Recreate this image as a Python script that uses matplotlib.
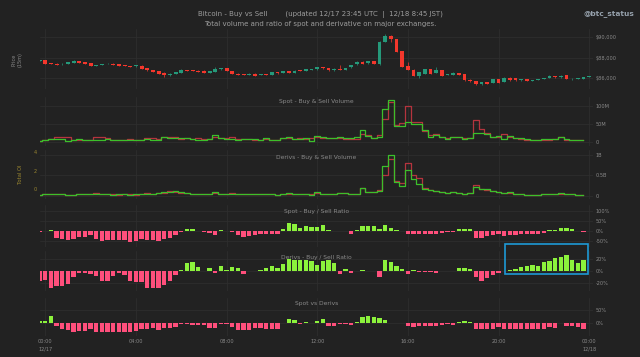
import matplotlib
matplotlib.use("Agg")
import matplotlib.pyplot as plt
import numpy as np
from matplotlib.patches import Rectangle

# 15 minute candles, 23:45 12/16 .. 00:00 12/18 (hours from 00:00 12/17)
price_open = [87730, 87770, 87475, 87440, 87345, 87440, 87500, 87670, 87540, 87475,
              87210, 87310, 87380, 87440, 87380, 87310, 87210, 87150, 87245, 86980,
              86820, 86690, 86560, 86360, 86425, 86560, 86820, 86785, 86750, 86750,
              86560, 86655, 86885, 86980, 86720, 86460, 86390, 86330, 86460, 86300,
              86390, 86330, 86590, 86525, 86690, 86525, 86785, 86720, 86850, 86885,
              87080, 87015, 86785, 86950, 86820, 87050, 87345, 87605, 87475, 87670,
              87380, 89575, 90165, 89840, 88655, 87180, 86850, 86230, 86460, 86885,
              86525, 86790, 86300, 86360, 86525, 86425, 85870, 85735, 85410, 85640,
              85540, 85935, 85640, 86065, 86000, 85800, 85935, 85735, 85835, 85935,
              86030, 86195, 86100, 86300, 85900, 85935, 85965, 86130]
price_close = [87745, 87410, 87380, 87310, 87440, 87540, 87700, 87475, 87410, 87210,
               87310, 87410, 87440, 87310, 87245, 87180, 87110, 87280, 86950, 86785,
               86655, 86425, 86330, 86460, 86620, 86850, 86720, 86690, 86655, 86520,
               86720, 86950, 86980, 86690, 86425, 86330, 86300, 86460, 86260, 86425,
               86330, 86620, 86490, 86690, 86525, 86750, 86690, 86885, 86910, 87110,
               86980, 86785, 86950, 86820, 87015, 87310, 87605, 87440, 87670, 87380,
               89575, 90165, 89840, 88590, 87115, 86850, 86230, 86590, 86885, 86460,
               86850, 86260, 86390, 86560, 86360, 85800, 85700, 85410, 85640, 85475,
               85935, 85570, 86065, 85800, 85800, 85900, 85735, 85835, 85935, 86030,
               86230, 86100, 86260, 85935, 85965, 86000, 86130, 86195]
price_high = [87790, 87800, 87500, 87470, 87470, 87570, 87740, 87700, 87570, 87500,
              87340, 87440, 87470, 87470, 87410, 87340, 87240, 87310, 87280, 87010,
              86850, 86720, 86590, 86490, 86650, 86880, 86850, 86810, 86780, 86780,
              86750, 87100, 87010, 87010, 86750, 86490, 86420, 86490, 86490, 86450,
              86420, 86650, 86620, 86720, 86720, 86780, 86810, 86910, 86940, 87140,
              87110, 87040, 86980, 87280, 87040, 87340, 87640, 87640, 87700, 87700,
              89610, 90330, 90200, 89870, 88690, 87600, 86880, 86620, 86910, 86910,
              87050, 86820, 86420, 86590, 86550, 86450, 85900, 85760, 85670, 85670,
              85960, 85960, 86100, 86090, 86030, 85930, 85960, 85860, 85960, 86060,
              86320, 86220, 86290, 86330, 85990, 86030, 86160, 86220]
price_low = [87700, 87380, 87350, 87280, 87320, 87410, 87470, 87450, 87380, 87180,
             87180, 87280, 87350, 87280, 87210, 87150, 87080, 87120, 86920, 86750,
             86620, 86390, 86160, 86230, 86390, 86530, 86690, 86660, 86620, 86490,
             86530, 86620, 86850, 86660, 86390, 86300, 86270, 86300, 86230, 86270,
             86300, 86300, 86460, 86490, 86490, 86490, 86660, 86690, 86820, 86850,
             86950, 86750, 86750, 86790, 86790, 87020, 87310, 87410, 87440, 87350,
             87250, 89540, 89575, 88560, 87080, 86820, 86200, 86070, 86430, 86430,
             86490, 86230, 86270, 86330, 86330, 85770, 85670, 85380, 85380, 85440,
             85510, 85540, 85610, 85770, 85770, 85770, 85700, 85700, 85810, 85910,
             86000, 86070, 86070, 85900, 85870, 85910, 85940, 86100]

# volumes, 23:45 12/16 .. 23:45 12/17
spot_buy = [3, 5, 8, 7, 7, 3, 4, 8, 5, 5, 5, 5, 7, 4, 6, 5, 5, 6, 4, 7,
            6, 6, 12, 10, 9, 9, 11, 8, 6, 5, 8, 18, 11, 8, 8, 6, 7, 7, 7, 6,
            10, 4, 4, 9, 12, 8, 7, 9, 3, 17, 12, 11, 9, 12, 9, 10, 12, 34, 15, 11,
            13, 92, 117, 44, 44, 56, 49, 50, 33, 14, 19, 14, 7, 14, 14, 7, 11, 23, 23, 21,
            14, 17, 7, 17, 9, 9, 8, 6, 6, 7, 7, 8, 14, 7, 5, 5, 4]
spot_sell = [2, 4, 8, 14, 14, 13, 4, 6, 5, 5, 12, 12, 10, 6, 5, 6, 8, 5, 4, 9,
             9, 7, 13, 14, 12, 7, 9, 8, 9, 8, 8, 14, 10, 11, 12, 7, 7, 7, 6, 5,
             8, 6, 5, 10, 10, 8, 9, 8, 10, 14, 10, 10, 10, 11, 8, 7, 7, 21, 19, 11,
             19, 63, 112, 47, 51, 100, 54, 56, 30, 19, 21, 14, 11, 13, 12, 9, 11, 60, 35, 23,
             14, 14, 21, 14, 9, 8, 6, 5, 5, 5, 6, 7, 12, 5, 6, 6, 4]
derivs_buy = [0.02, 0.03, 0.03, 0.03, 0.03, 0.02, 0.02, 0.05, 0.04, 0.03,
              0.03, 0.03, 0.04, 0.02, 0.03, 0.03, 0.02, 0.03, 0.03, 0.05,
              0.04, 0.06, 0.08, 0.09, 0.12, 0.08, 0.06, 0.05, 0.04, 0.03,
              0.03, 0.09, 0.04, 0.03, 0.03, 0.04, 0.04, 0.04, 0.03, 0.03,
              0.05, 0.03, 0.02, 0.04, 0.06, 0.04, 0.03, 0.04, 0.02, 0.08,
              0.05, 0.03, 0.03, 0.07, 0.06, 0.03, 0.04, 0.20, 0.10, 0.08,
              0.11, 0.74, 1.00, 0.34, 0.25, 0.63, 0.41, 0.28, 0.16, 0.14,
              0.12, 0.08, 0.06, 0.08, 0.07, 0.05, 0.07, 0.21, 0.16, 0.16,
              0.12, 0.09, 0.07, 0.08, 0.05, 0.03, 0.02, 0.02, 0.02, 0.03,
              0.03, 0.03, 0.06, 0.03, 0.03, 0.02, 0.02]
derivs_sell = [0.02, 0.05, 0.04, 0.03, 0.03, 0.02, 0.02, 0.04, 0.03, 0.03,
               0.06, 0.05, 0.04, 0.03, 0.02, 0.03, 0.04, 0.02, 0.03, 0.06,
               0.05, 0.06, 0.07, 0.11, 0.09, 0.07, 0.06, 0.05, 0.05, 0.03,
               0.04, 0.07, 0.04, 0.05, 0.06, 0.04, 0.03, 0.04, 0.03, 0.03,
               0.04, 0.03, 0.02, 0.04, 0.05, 0.04, 0.04, 0.04, 0.04, 0.07,
               0.05, 0.03, 0.03, 0.07, 0.06, 0.03, 0.03, 0.18, 0.09, 0.08,
               0.15, 0.50, 0.89, 0.36, 0.30, 0.80, 0.50, 0.43, 0.20, 0.14,
               0.11, 0.10, 0.07, 0.08, 0.07, 0.05, 0.07, 0.26, 0.17, 0.15,
               0.11, 0.10, 0.07, 0.07, 0.05, 0.03, 0.02, 0.02, 0.02, 0.03,
               0.03, 0.03, 0.05, 0.03, 0.03, 0.02, 0.02]

# ratios in %
spot_ratio = [-5, -2, 3, -34, -42, -46, -39, -30, -29, -22, -39, -50, -47, -46, -46, -46, -54, -51, -40, -44,
              -44, -49, -40, -34, -20, -3, 10, 10, -2, -7, -10, -18, 7, -1, -5, -18, -29, -24, -19, -14,
              -14, -13, -13, 8, 42, 36, 17, 27, 19, 20, 29, 5, -2, -1, -1, -15, 7, 25, 27, 25,
              12, 32, 17, 7, 0, -17, -17, -17, -15, -15, -15, -10, -5, -3, 9, 12, 10, -35, -34, -27,
              -22, -15, -27, -20, -20, -17, -17, -17, -17, -10, 3, 3, 17, 14, 8, 0, -3]
derivs_ratio = [-16, -14, -27, -24, -24, -21, -10, -3, -2, -4, -8, -16, -16, -7, -3, -6, -16, -17, -17, -27,
                -27, -27, -22, -16, -6, 2, 13, 16, 7, 0, 6, -2, 9, 2, 7, 6, -5, 0, 0, 2,
                6, 8, 5, 12, 21, 19, 19, 19, 17, 10, 17, 19, 13, -4, 3, -2, 0, 2, 1, 1,
                -9, 18, 16, 8, 4, -4, 2, -1, -1, -1, -2, 0, 0, 1, 5, 5, 4, -10, -16, -11,
                -6, -2, 0, 2, 3, 7, 8, 10, 9, 15, 17, 22, 24, 27, 18, 13, 19]
spot_vs_derivs = [5, 8, 26, -13, -24, -29, -35, -31, -31, -24, -35, -35, -35, -38, -38, -38, -35, -31, -24, -24,
                  -20, -28, -21, -21, -16, -5, -6, -8, -8, -10, -20, -20, -3, -3, -16, -28, -28, -30, -22, -22,
                  -24, -24, -24, -2, 14, 9, -5, 4, -2, 8, 13, -13, -13, -3, -3, -10, 3, 21, 26, 24,
                  18, 10, -1, 0, -2, -13, -17, -13, -13, -13, -13, -10, -4, -9, 3, 7, 3, -25, -25, -25,
                  -25, -18, -25, -25, -25, -25, -25, -25, -25, -24, -18, -21, -2, -13, -13, -16, -25]

tick_hours = [0, 4, 8, 12, 16, 20, 24]
tick_labels = ["00:00\n12/17", "04:00", "08:00", "12:00", "16:00", "20:00", "00:00\n12/18"]

BG = "#222222"
GRID = "#2f2f2f"
TXT = "#8a8a8a"
OI_COL = "#9a8630"
C_UP, C_DN = "#25997a", "#f4372c"
V_UP, V_DN = "#3cbf2b", "#b5343e"
R_UP, R_DN = "#8cf23c", "#ff4f7c"

t_price = np.arange(len(price_open)) * 0.25 - 0.25
t_bar = np.arange(len(spot_ratio)) * 0.25 - 0.25

W, H = 640, 357
L, R = 40, 593
fig = plt.figure(figsize=(W / 100, H / 100), dpi=100, facecolor=BG)


def panel(top, bottom):
    ax = fig.add_axes([L / W, 1 - bottom / H, (R - L) / W, (bottom - top) / H])
    ax.set_facecolor(BG)
    for s in ax.spines.values():
        s.set_visible(False)
    ax.set_xlim(-0.234, 24.17)
    ax.set_xticks(tick_hours)
    ax.tick_params(length=0, labelsize=3.6, colors=TXT, pad=2)
    ax.yaxis.tick_right()
    ax.tick_params(axis="x", labelbottom=False)
    ax.grid(True, color=GRID, lw=0.5)
    ax.set_axisbelow(True)
    return ax


def title(text, y_px):
    fig.text((L + R) / 2 / W, 1 - y_px / H, text, ha="center", va="center",
             fontsize=4.3, color=TXT)


# price
ax = panel(29, 89)
ax.set_ylim(84950, 90810)
ax.set_yticks([86000, 88000, 90000])
ax.set_yticklabels(["$86,000", "$88,000", "$90,000"])
for t, o, c, h, l in zip(t_price, price_open, price_close, price_high, price_low):
    col = C_UP if c >= o else C_DN
    ax.vlines(t, l, h, color=col, lw=0.5)
    if abs(c - o) > 20:
        ax.bar(t, c - o, bottom=o, width=0.17, color=col)
    else:
        ax.bar(t, 25, bottom=o - 12, width=0.17, color=col)
fig.text(17 / W, 1 - 60 / H, "Price\n(15m)", rotation=90, ha="center", va="center",
         fontsize=3.6, color=TXT)

# spot volume
ax = panel(97, 146)
ax.set_ylim(-12, 125)
ax.set_yticks([0, 50, 100])
ax.set_yticklabels(["0", "50M", "100M"])
ax.step(t_bar, spot_sell, where="mid", color=V_DN, lw=0.9)
ax.step(t_bar, spot_buy, where="mid", color=V_UP, lw=0.9)
title("Spot - Buy & Sell Volume", 102)

# derivs volume with (empty) total OI axis on the left
ax = panel(150, 199)
oi = ax.twinx()
ax.set_ylim(-0.081, 1.123)
ax.set_yticks([0, 0.5, 1])
ax.set_yticklabels(["0", "0.5B", "1B"])
ax.step(t_bar, derivs_sell, where="mid", color=V_DN, lw=0.9)
ax.step(t_bar, derivs_buy, where="mid", color=V_UP, lw=0.9)
ax.yaxis.tick_right()
oi.set_ylim(-1.09, 4.25)
oi.set_yticks([0, 2, 4])
oi.yaxis.tick_left()
oi.yaxis.set_label_position("left")
oi.tick_params(length=0, labelsize=3.6, colors=OI_COL, pad=2)
for s in oi.spines.values():
    s.set_visible(False)
oi.set_ylabel("Total OI", fontsize=3.8, color=OI_COL, labelpad=8)
title("Derivs - Buy & Sell Volume", 157)


def ratio_panel(top, bottom, vals, ylim, ticks, labels, name, ty):
    ax = panel(top, bottom)
    ax.set_ylim(*ylim)
    ax.set_yticks(ticks)
    ax.set_yticklabels(labels)
    cols = [R_UP if v >= 0 else R_DN for v in vals]
    ax.bar(t_bar, vals, width=0.19, color=cols)
    title(name, ty)
    return ax


ratio_panel(205, 247, spot_ratio, (-81, 132), [-50, 0, 50, 100],
            ["-50%", "0%", "50%", "100%"], "Spot - Buy / Sell Ratio", 211.5)
ax = ratio_panel(251, 291, derivs_ratio, (-32.8, 33.8), [-20, 0, 20],
                 ["-20%", "0%", "20%"], "Derivs - Buy / Sell Ratio", 257.3)
ax.add_patch(Rectangle((20.28, -4), 3.69, 49, fill=False, ec="#1e9ad6", lw=1.2,
                       clip_on=False, zorder=5))
ax = ratio_panel(298, 336, spot_vs_derivs, (-52, 97), [0, 50],
                 ["0%", "50%"], "Spot vs Derivs", 303)
ax.tick_params(axis="x", labelbottom=True, pad=2.5)
ax.set_xticklabels(tick_labels, linespacing=1.5)

fig.text(320 / W, 1 - 14 / H,
         "Bitcoin - Buy vs Sell        (updated 12/17 23:45 UTC  |  12/18 8:45 JST)",
         ha="center", va="center", fontsize=5, color="#9c9c9c")
fig.text(320 / W, 1 - 24 / H,
         "Total volume and ratio of spot and derivative on major exchanges.",
         ha="center", va="center", fontsize=5, color="#9c9c9c")
fig.text(634 / W, 1 - 14 / H, "@btc_status", ha="right", va="center",
         fontsize=5.3, color="#95a0ab", fontweight="bold")

fig.savefig("out.png", dpi=100, facecolor=BG)
